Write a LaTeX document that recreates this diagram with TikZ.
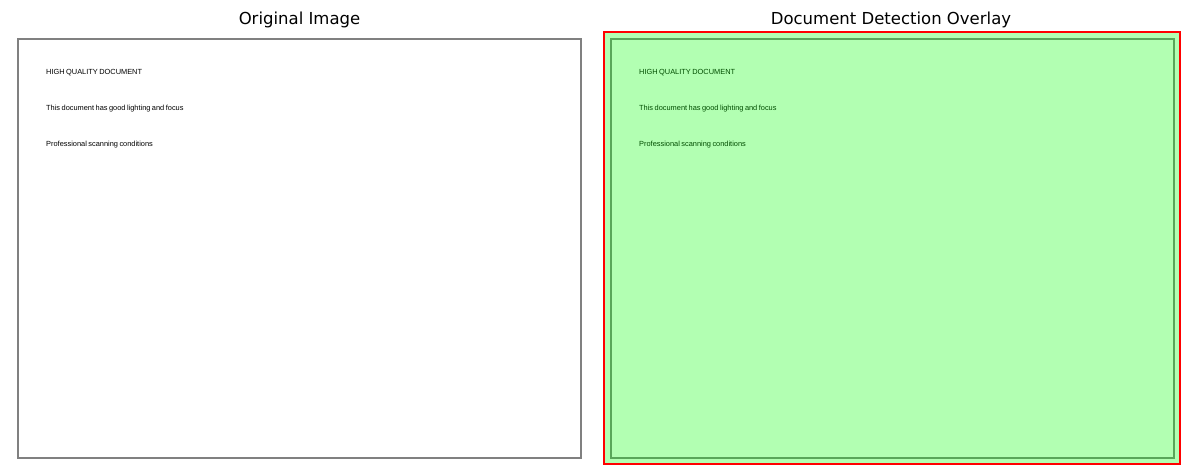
\documentclass[tikz,border=0pt]{standalone}
\usepackage{fontspec}
\setmainfont{DejaVu Sans}
\newfontfamily\docfont{Liberation Sans}
\usepackage{tikz}
\newcommand\docsize{\docfont\fontsize{7.4}{8}\selectfont\spaceskip 1.5pt\relax}

\begin{document}
\begin{tikzpicture}[x=1pt,y=-1pt,
    title/.style={anchor=base, inner sep=0pt, font=\fontsize{16.5}{18}\selectfont},
    docline/.style={anchor=base west, inner sep=0pt, font=\docsize},
    page/.style={draw=gray, line width=1.3pt}]
\useasboundingbox (0,0) rectangle (1189,475);
    % left panel
    \node[title] (orig title) at (299.5,24) {Original Image};
    \draw[page] (18,39) rectangle (581,458);
    \node[docline] (orig head) at (46,74.5) {HIGH QUALITY DOCUMENT};
    \node[docline] (orig light) at (46,110.5) {This document has good lighting and focus};
    \node[docline] (orig scan) at (46,146.5) {Professional scanning conditions};
    % right panel
    \node[title] (over title) at (891,24) {Document Detection Overlay};
    \draw[page] (611,39) rectangle (1174,458);
    \node[docline] (over head) at (639,74.5) {HIGH QUALITY DOCUMENT};
    \node[docline] (over light) at (639,110.5) {This document has good lighting and focus};
    \node[docline] (over scan) at (639,146.5) {Professional scanning conditions};
    \fill[green, opacity=0.3] (604,32) rectangle (1180,464);
    \draw[red, line width=1.6pt] (604,32) rectangle (1180,464);
\end{tikzpicture}
\end{document}
